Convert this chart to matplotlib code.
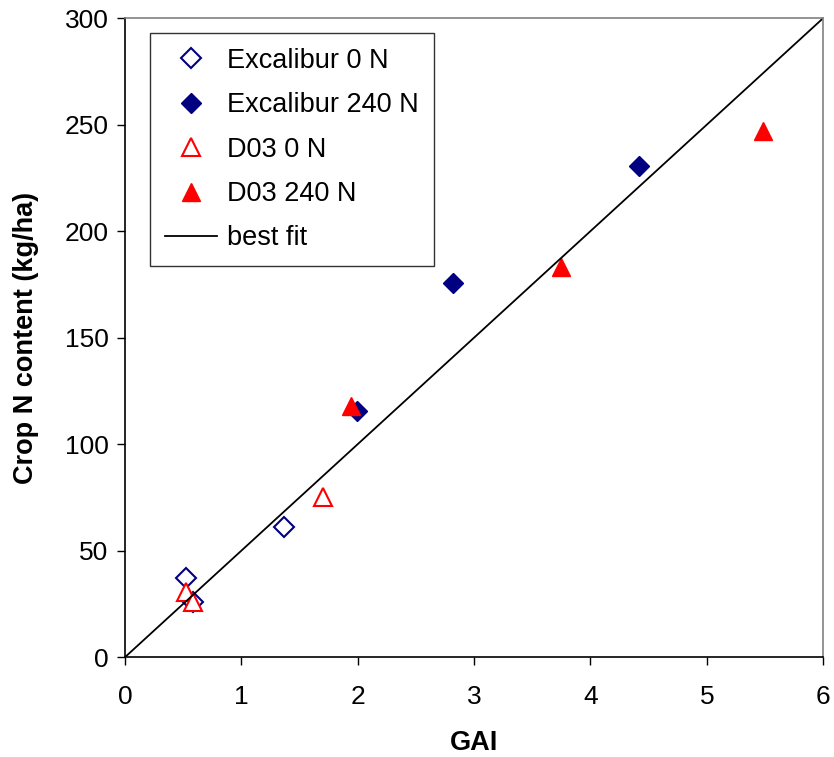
import matplotlib.pyplot as plt

plt.rcParams['font.family'] = ['Liberation Sans', 'DejaVu Sans']

# データ
exc0_gai = [0.52, 0.58, 1.37]
exc0_n = [37, 26, 61]
exc240_gai = [1.99, 2.82, 4.42]
exc240_n = [115.5, 175.5, 230.5]
d03_0_gai = [0.52, 0.58, 1.70]
d03_0_n = [30.5, 26, 75]
d03_240_gai = [1.94, 3.75, 5.48]
d03_240_n = [118, 183, 247]
fit_x = [0, 6]
fit_y = [0, 300]

navy = '#000080'
red = '#ff0000'

fig = plt.figure(figsize=(8.34, 7.57), dpi=100)
ax = fig.add_axes([0.150, 0.132, 0.837, 0.844])

ax.plot(exc0_gai, exc0_n, 'D', ms=10, mfc='white', mec=navy, mew=1.5,
        linestyle='none', label='Excalibur 0 N')
ax.plot(exc240_gai, exc240_n, 'D', ms=10, mfc=navy, mec=navy,
        linestyle='none', label='Excalibur 240 N')
ax.plot(d03_0_gai, d03_0_n, '^', ms=13, mfc='white', mec=red, mew=1.5,
        linestyle='none', label='D03 0 N')
ax.plot(d03_240_gai, d03_240_n, '^', ms=13, mfc=red, mec=red,
        linestyle='none', label='D03 240 N')
ax.plot(fit_x, fit_y, color='black', lw=1.3, label='best fit')

ax.set_xlim(0, 6)
ax.set_ylim(0, 300)
ax.set_xticks(range(0, 7))
ax.set_yticks(range(0, 301, 50))
ax.tick_params(direction='out', length=6, width=1, labelsize=19)
ax.tick_params(axis='x', pad=14)
ax.tick_params(axis='y', pad=6)

for s in ['left', 'bottom']:
    ax.spines[s].set_linewidth(1.2)
for s in ['top', 'right']:
    ax.spines[s].set_color('#808080')
    ax.spines[s].set_linewidth(1.2)

ax.set_xlabel('GAI', fontsize=19.5, fontweight='bold', labelpad=15)
ax.set_ylabel('Crop N content (kg/ha)', fontsize=19.5, fontweight='bold', labelpad=18)

leg = ax.legend(loc='upper left', bbox_to_anchor=(0.036, 0.977), fontsize=19.5,
                frameon=True, fancybox=False, edgecolor='black',
                labelspacing=0.68, handlelength=1.9, borderpad=0.55,
                borderaxespad=0, handletextpad=0.4, numpoints=1)
leg.get_frame().set_linewidth(1.0)

plt.savefig('out.png', dpi=100)
